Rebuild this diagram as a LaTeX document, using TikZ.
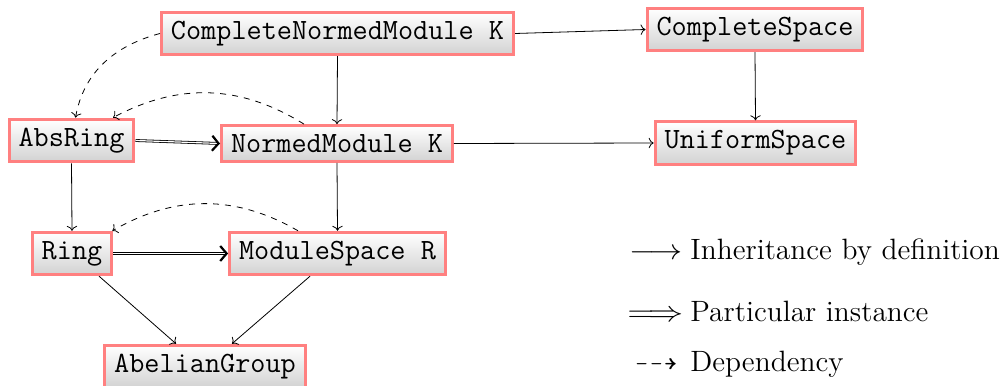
\documentclass[tikz,border=0pt]{standalone}
\usepackage{amssymb}
\usetikzlibrary{arrows.meta,shadings}
\newcommand{\lgsize}{\fontsize{14.7pt}{17pt}\selectfont}
\begin{document}
\begin{tikzpicture}[x=0.5pt,y=-0.5pt,
  cls/.style={draw=red!50, line width=1.5pt, top color=white, bottom color=gray!35,
    font=\lgsize\ttfamily, inner xsep=4.75pt, inner ysep=4.4pt},
  inh/.style={->, thin},
  inst/.style={double, thin, -{Straight Barb[length=3.2pt,width=7.5pt,line width=1.1pt]}},
  dep/.style={dashed, ->, thin},
  lg/.style={font=\lgsize, anchor=west, inner sep=0pt}]
\useasboundingbox (0,0) rectangle (1005,385);
\node[cls] (cnm) at (337.5,33.5) {CompleteNormedModule K};
\node[cls] (cs)  at (755,29.5) {CompleteSpace};
\node[cls] (abs) at (71.5,140.5) {AbsRing};
\node[cls] (nm)  at (337,143.5) {NormedModule K};
\node[cls] (us)  at (755.5,143) {UniformSpace};
\node[cls] (ring) at (72,253.5) {Ring};
\node[cls] (ms)  at (337.5,253.5) {ModuleSpace R};
\node[cls] (ag)  at (205,366.5) {AbelianGroup};

\draw[inh] (cnm.east) -- (cs.west);
\draw[inh] (cnm.south) -- (nm.north);
\draw[inh] (cs.south) -- (us.north);
\draw[inh] (nm.east) -- (us.west);
\draw[inh] (abs.south) -- (ring.north);
\draw[inh] (nm.south) -- (ms.north);
\draw[inh] ([xshift=13.5pt]ring.south) -- ([xshift=-14.5pt]ag.north);
\draw[inh] ([xshift=-13.75pt]ms.south) -- ([xshift=13.5pt]ag.north);

\draw[inst] (abs.east) -- (nm.west);
\draw[inst] (ring.east) -- (ms.west);

\draw[dep] (cnm.west) to[out=195,in=80] ([xshift=2pt]abs.north);
\draw[dep] ([xshift=-16.5pt]nm.north) to[bend right=30] ([xshift=20.75pt]abs.north);
\draw[dep] ([xshift=-19.75pt]ms.north) to[bend right=30] ([xshift=-0.5pt]ring.north east);

\node[lg] (l1) at (629,252) {\makebox[30.5pt][l]{\scalebox{1.15}[1]{$\longrightarrow$}}Inheritance by definition};
\node[lg] (l2) at (627,311) {\makebox[31.5pt][l]{\scalebox{1.22}[1]{$\Longrightarrow$}}Particular instance};
\node[lg] (l3) at (629,364) {\makebox[30.5pt][l]{\,$\dashrightarrow$}Dependency};
\end{tikzpicture}
\end{document}
